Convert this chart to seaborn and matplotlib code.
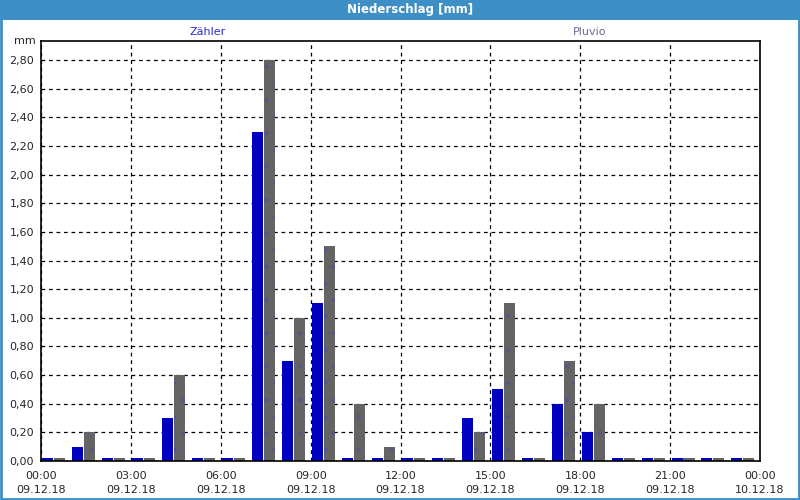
import numpy as np
import pandas as pd
import seaborn as sns
import matplotlib
matplotlib.use("Agg")
import matplotlib.pyplot as plt
from matplotlib.patches import Rectangle

# hourly precipitation, 09.12.18 00:00 - 10.12.18 00:00
hours = list(range(24))
zaehler = [0.0, 0.1, 0.0, 0.0, 0.3, 0.0, 0.0, 2.3, 0.7, 1.1, 0.0, 0.0,
           0.0, 0.0, 0.3, 0.5, 0.0, 0.4, 0.2, 0.0, 0.0, 0.0, 0.0, 0.0]
pluvio = [0.0, 0.2, 0.0, 0.0, 0.6, 0.0, 0.0, 2.8, 1.0, 1.5, 0.4, 0.1,
          0.0, 0.0, 0.2, 1.1, 0.0, 0.7, 0.4, 0.0, 0.0, 0.0, 0.0, 0.0]
series = ["Zähler", "Pluvio"]
colors = ["#0000c0", "#646464"]
x_labels = ["00:00\n09.12.18", "03:00\n09.12.18", "06:00\n09.12.18",
            "09:00\n09.12.18", "12:00\n09.12.18", "15:00\n09.12.18",
            "18:00\n09.12.18", "21:00\n09.12.18", "00:00\n10.12.18"]
y_ticks = [0.0, 0.2, 0.4, 0.6, 0.8, 1.0, 1.2, 1.4, 1.6, 1.8, 2.0, 2.2, 2.4, 2.6, 2.8]

df = pd.DataFrame({
    "hour": hours * 2,
    "series": [series[0]] * 24 + [series[1]] * 24,
    "value": zaehler + pluvio,
})
# zero hours are still drawn as a hairline bar
df["shown"] = np.maximum(df["value"], 0.02)

sns.set_style("white")
plt.rcParams["font.family"] = ["DejaVu Sans"]
plt.rcParams["hatch.linewidth"] = 0.5

fig = plt.figure(figsize=(8, 5), dpi=100)
ax = fig.add_axes([41 / 800, 39 / 500, 719 / 800, 420 / 500])

sns.barplot(data=df, x="hour", y="shown", hue="series", hue_order=series,
            palette=colors, width=0.8, gap=0.08, saturation=1,
            legend=False, ax=ax, linewidth=0)
for bar in ax.containers[1]:
    bar.set_hatch(".")
    bar.set_edgecolor("#56568a")

start = -0.43
ax.set_xlim(start, start + 24)
ax.set_ylim(0, 2.933)
ax.set_xticks([start + 3 * k for k in range(9)])
ax.set_xticklabels(x_labels, fontsize=8, linespacing=1.55)
ax.set_xticks([start + k for k in range(25)], minor=True)
ax.set_yticks(y_ticks)
ax.set_yticklabels([f"{v:.2f}".replace(".", ",") for v in y_ticks], fontsize=8)
ax.tick_params(axis="x", which="both", direction="out", length=3, width=1,
               color="black", pad=4)
ax.tick_params(axis="y", length=0, pad=5)
ax.set_xlabel("")
ax.set_ylabel("")
ax.grid(True, which="major", color="black", linestyle=(0, (3, 3)), linewidth=0.9)
ax.set_axisbelow(True)
for s in ax.spines.values():
    s.set_color("black")
    s.set_linewidth(1.2)

ax.text(-0.007, 1.0, "mm", transform=ax.transAxes, ha="right", va="center", fontsize=8)
fig.text(208 / 800, 1 - 32 / 500, "Zähler", ha="center", va="center",
         fontsize=8, color="#2a2ad0")
fig.text(590 / 800, 1 - 32 / 500, "Pluvio", ha="center", va="center",
         fontsize=8, color="#6a6a94")

# title bar and window frame
fig.patches.append(Rectangle((0, 1 - 20 / 500), 1, 20 / 500, transform=fig.transFigure,
                             facecolor="#3d8fc5", edgecolor="none", zorder=0))
fig.patches.append(Rectangle((0.001, 0.002), 0.998, 0.996, transform=fig.transFigure,
                             facecolor="none", edgecolor="#3d8fc5", linewidth=2, zorder=0))
fig.text(410 / 800, 1 - 10 / 500, "Niederschlag [mm]", ha="center", va="center",
         fontsize=8.5, fontweight="bold", color="white")

fig.savefig("out.png", dpi=100)
